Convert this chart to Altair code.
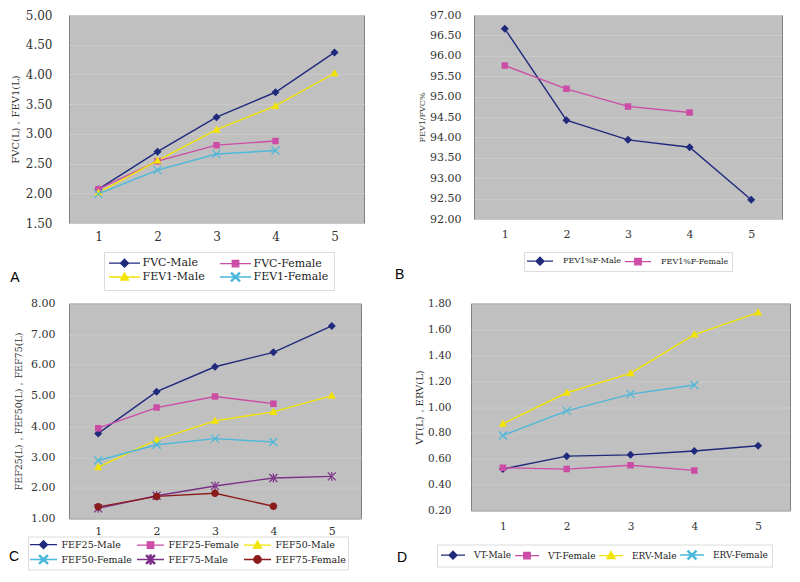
import altair as alt
import pandas as pd

CATS = ["1", "2", "3", "4", "5"]

# ---- Panel A ----
A_SERIES = ["FVC-Male", "FVC-Female", "FEV1-Male", "FEV1-Female"]
A_FVC_MALE = [2.07, 2.70, 3.28, 3.70, 4.37]
A_FVC_FEMALE = [2.07, 2.54, 2.81, 2.88]
A_FEV1_MALE = [2.01, 2.55, 3.07, 3.47, 4.02]
A_FEV1_FEMALE = [1.99, 2.39, 2.66, 2.72]
A_TICKS = [1.5, 2.0, 2.5, 3.0, 3.5, 4.0, 4.5, 5.0]

# ---- Panel B ----
B_SERIES = ["FEV1%F-Male", "FEV1%F-Female"]
B_MALE = [96.66, 94.42, 93.94, 93.76, 92.47]
B_FEMALE = [95.76, 95.19, 94.76, 94.61]
B_TICKS = [92.0, 92.5, 93.0, 93.5, 94.0, 94.5, 95.0, 95.5, 96.0, 96.5, 97.0]

# ---- Panel C ----
C_SERIES = ["FEF25-Male", "FEF25-Female", "FEF50-Male",
            "FEF50-Female", "FEF75-Male", "FEF75-Female"]
C_FEF25_MALE = [3.77, 5.13, 5.94, 6.41, 7.27]
C_FEF25_FEMALE = [3.94, 4.61, 4.97, 4.74]
C_FEF50_MALE = [2.67, 3.56, 4.18, 4.47, 5.00]
C_FEF50_FEMALE = [2.89, 3.40, 3.60, 3.49]
C_FEF75_MALE = [1.33, 1.74, 2.06, 2.32, 2.37]
C_FEF75_FEMALE = [1.38, 1.72, 1.82, 1.40]
C_TICKS = [1.0, 2.0, 3.0, 4.0, 5.0, 6.0, 7.0, 8.0]

# ---- Panel D ----
D_SERIES = ["VT-Male", "VT-Female", "ERV-Male", "ERV-Female"]
D_VT_MALE = [0.52, 0.62, 0.63, 0.66, 0.70]
D_VT_FEMALE = [0.53, 0.52, 0.55, 0.51]
D_ERV_MALE = [0.87, 1.11, 1.26, 1.56, 1.73]
D_ERV_FEMALE = [0.78, 0.97, 1.10, 1.17]
D_TICKS = [0.2, 0.4, 0.6, 0.8, 1.0, 1.2, 1.4, 1.6, 1.8]

NAVY = "#1f2a7c"
MAGENTA = "#cc4da6"
YELLOW = "#f2e400"
CYAN = "#4cb8da"
PURPLE = "#7b2f86"
DARKRED = "#8b1c1c"

DIAMOND = "M0,-0.8L0.8,0L0,0.8L-0.8,0Z"
SQUARE = "M-0.65,-0.65H0.65V0.65H-0.65Z"
TRIANGLE = "M0,-0.85L0.8,0.6L-0.8,0.6Z"
XMARK = ("M0.715,0.885L0.885,0.715L-0.715,-0.885L-0.885,-0.715Z"
         "M0.885,-0.715L0.715,-0.885L-0.885,0.715L-0.715,0.885Z")
STAR = XMARK + "M-0.12,-0.9H0.12V0.9H-0.12Z"
CIRCLE = "M0.75,0A0.75,0.75,0,1,1,-0.75,0A0.75,0.75,0,1,1,0.75,0Z"


def frame(series, values):
    rows = []
    for s, vals in zip(series, values):
        for c, v in zip(CATS, vals):
            rows.append({"g": c, "s": s, "v": v})
    return pd.DataFrame(rows)


def panel(df, series, colors, marks, half, ydom, yticks, ytitle, w, h,
          tick_fs, title_fs, lab_pad, title_pad, x_pad,
          leg_fs, cols, leg_x, leg_y, leg_pad, col_pad, row_pad,
          sym_off, lab_off, letter, l_dx, l_off):
    shapes = [f"M{-half},0H{half}" + m for m in marks]
    leg = alt.Legend(title=None, orient="none", direction="horizontal",
                     legendX=leg_x, legendY=leg_y,
                     columns=cols, labelFontSize=leg_fs, padding=leg_pad,
                     columnPadding=col_pad, rowPadding=row_pad, symbolSize=100,
                     symbolOffset=sym_off, labelOffset=lab_off)
    x = alt.X("g:O", sort=CATS, scale=alt.Scale(domain=CATS),
              axis=alt.Axis(title=None, labelAngle=0, ticks=False, tickSize=0,
                            domain=False, grid=False, labelPadding=x_pad,
                            labelFontSize=tick_fs))
    y = alt.Y("v:Q", scale=alt.Scale(domain=ydom, nice=False, zero=False),
              axis=alt.Axis(title=ytitle, values=yticks, format=".2f",
                            ticks=False, tickSize=0, domain=False, grid=True,
                            labelPadding=lab_pad, titlePadding=title_pad,
                            labelFontSize=tick_fs, titleFontSize=title_fs))
    color = alt.Color("s:N", sort=series,
                      scale=alt.Scale(domain=series, range=colors), legend=leg)
    shape = alt.Shape("s:N", sort=series,
                      scale=alt.Scale(domain=series, range=shapes), legend=leg)
    base = alt.Chart(df)
    lines = base.mark_line(strokeWidth=1.4).encode(x=x, y=y, color=color)
    pts = base.mark_point(filled=True, size=100, opacity=1).encode(
        x=x, y=y, color=color, shape=shape)
    return alt.layer(lines, pts).properties(
        width=w, height=h,
        title=alt.TitleParams(letter, orient="bottom", anchor="start",
                              frame="bounds", offset=l_off, dx=l_dx,
                              fontSize=14, font="Liberation Sans",
                              fontWeight="normal", color="#000000"))


dfA = frame(A_SERIES, [A_FVC_MALE, A_FVC_FEMALE, A_FEV1_MALE, A_FEV1_FEMALE])
dfB = frame(B_SERIES, [B_MALE, B_FEMALE])
dfC = frame(C_SERIES, [C_FEF25_MALE, C_FEF25_FEMALE, C_FEF50_MALE,
                       C_FEF50_FEMALE, C_FEF75_MALE, C_FEF75_FEMALE])
dfD = frame(D_SERIES, [D_VT_MALE, D_VT_FEMALE, D_ERV_MALE, D_ERV_FEMALE])

pA = panel(dfA, A_SERIES, [NAVY, MAGENTA, YELLOW, CYAN],
           [DIAMOND, SQUARE, TRIANGLE, XMARK], 3.1,
           [1.5, 5.0], A_TICKS, "FVC(L)，FEV1(L)", 295, 208,
           12, 10, 17, 5, 8,
           11, 2, 35, 237, 5, 12, -1, 9.5, 12,
           "A", 0, -20)
pB = panel(dfB, B_SERIES, [NAVY, MAGENTA], [DIAMOND, SQUARE], 2.6,
           [92.0, 97.0], B_TICKS, "FEV1/FVC%", 308, 204,
           11, 8, 13, 3, 9,
           8, 2, 50, 237, 3, 0, 0, 7, 17,
           "B", -23.5, -4)
pC = panel(dfC, C_SERIES, [NAVY, MAGENTA, YELLOW, CYAN, PURPLE, DARKRED],
           [DIAMOND, SQUARE, TRIANGLE, XMARK, STAR, CIRCLE], 2.7,
           [1.0, 8.0], C_TICKS, "FEF25(L)，FEF50(L)，FEF75(L)", 292, 215,
           11, 9.5, 14, 7.5, 7,
           9.5, 3, -41, 233, 2, 2, 0, 7.5, 12,
           "C", -4, -20)
pD = panel(dfD, D_SERIES, [NAVY, MAGENTA, YELLOW, CYAN],
           [DIAMOND, SQUARE, TRIANGLE, XMARK], 2.4,
           [0.2, 1.8], D_TICKS, "VT(L)，ERV(L)", 319, 207,
           10.5, 10, 20, 3, 11,
           9, 4, -34, 241, 4, 0, 0, 6, 15,
           "D", -17.6, -16)

row1 = alt.hconcat(pA, pB, spacing=110, bounds="flush").resolve_scale(
    color="independent", shape="independent")
row2 = alt.hconcat(pC, pD, spacing=110, bounds="flush").resolve_scale(
    color="independent", shape="independent")

chart = (
    alt.vconcat(row1, row2, spacing=5.5)
    .resolve_scale(color="independent", shape="independent")
    .properties(padding=0)
    .configure_view(fill="#c0c0c0", stroke="#808080", strokeWidth=1)
    .configure_axis(labelFont="DejaVu Serif", titleFont="DejaVu Serif",
                    labelColor="#333333", titleColor="#333333",
                    titleFontWeight="normal", gridColor="#c9c9c9", gridWidth=1)
    .configure_legend(labelFont="DejaVu Serif", labelColor="#222222",
                      strokeColor="#dcdcdc", fillColor="#ffffff",
                      symbolStrokeWidth=1.3)
)

chart.save("out.html", embed_options={"renderer": "svg", "actions": False})
